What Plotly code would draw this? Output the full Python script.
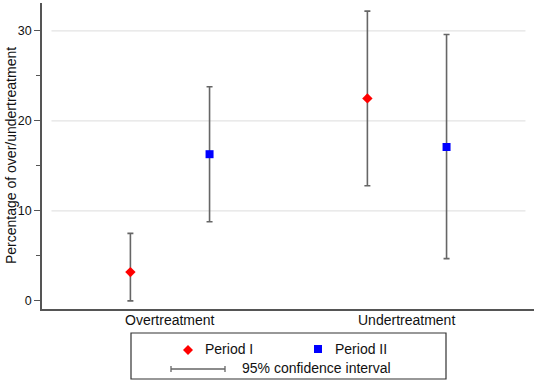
import plotly.graph_objects as go

categories = ["Overtreatment", "Undertreatment"]
period1_est = [3.2, 22.5]
period1_lo = [0.0, 12.8]
period1_hi = [7.5, 32.2]
period2_est = [16.3, 17.1]
period2_lo = [8.8, 4.7]
period2_hi = [23.8, 29.6]
ytick_vals = [0, 10, 20, 30]
minor_vals = [5, 15, 25]

W, H = 536, 383
L, R, T, B = 42, 2, 3, 74
pw, ph = W - L - R, H - T - B

cat_pos = [1, 2]
off = 0.167
x1 = [c - off for c in cat_pos]
x2 = [c + off for c in cat_pos]

err_color = "#666666"
FONT = "Liberation Sans, Arial, sans-serif"

fig = go.Figure()

def add_series(xs, est, lo, hi, color, symbol, size, name):
    fig.add_trace(go.Scatter(
        x=xs, y=est, mode="markers", name=name,
        marker=dict(color=color, symbol=symbol, size=size, line=dict(width=0)),
        error_y=dict(type="data", symmetric=False,
                     array=[h - e for h, e in zip(hi, est)],
                     arrayminus=[e - l for e, l in zip(est, lo)],
                     color=err_color, thickness=1.6, width=3),
        showlegend=False, cliponaxis=False, hoverinfo="skip",
    ))

# gridlines
for v in ytick_vals[1:]:
    fig.add_shape(type="line", xref="x", yref="y", x0=0.5, x1=2.5, y0=v, y1=v,
                  line=dict(color="#e3e3e3", width=1.2), layer="below")

add_series(x1, period1_est, period1_lo, period1_hi, "#ff0000", "diamond", 8, "Period I")
add_series(x2, period2_est, period2_lo, period2_hi, "#0000ff", "square", 8, "Period II")

def px2paper_x(px):
    return (px - L) / pw

def px2paper_y(py):
    return (H - B - py) / ph

# category labels
for c, lab in zip(cat_pos, categories):
    fig.add_annotation(text=lab, xref="x", yref="paper", x=c, y=px2paper_y(320),
                       xanchor="center", yanchor="middle", showarrow=False,
                       font=dict(family=FONT, size=14, color="#111111"))

# legend box
fig.add_shape(type="rect", xref="paper", yref="paper",
              x0=px2paper_x(131), x1=px2paper_x(446),
              y0=px2paper_y(379), y1=px2paper_y(333),
              line=dict(color="#333333", width=1.2), fillcolor="white")
# legend diamond
fig.add_shape(type="path", xref="paper", yref="paper", xsizemode="pixel", ysizemode="pixel",
              xanchor=px2paper_x(188), yanchor=px2paper_y(350),
              path="M0,-5 L5,0 L0,5 L-5,0 Z", fillcolor="#ff0000", line=dict(width=0))
# legend square
fig.add_shape(type="path", xref="paper", yref="paper", xsizemode="pixel", ysizemode="pixel",
              xanchor=px2paper_x(318), yanchor=px2paper_y(349),
              path="M-4,-4 L4,-4 L4,4 L-4,4 Z", fillcolor="#0000ff", line=dict(width=0))
# legend CI
fig.add_shape(type="path", xref="paper", yref="paper", xsizemode="pixel", ysizemode="pixel",
              xanchor=px2paper_x(198), yanchor=px2paper_y(369),
              path="M-27,0 L27,0 M-27,-3 L-27,3 M27,-3 L27,3", line=dict(color=err_color, width=1.3))

leg_font = dict(family=FONT, size=14, color="#111111")
for txt, px, py in [("Period I", 203, 349), ("Period II", 333, 349), ("95% confidence interval", 240, 368)]:
    fig.add_annotation(text=txt, xref="paper", yref="paper", x=px2paper_x(px), y=px2paper_y(py),
                       xanchor="left", yanchor="middle", showarrow=False, font=leg_font)

# y-axis title
fig.add_annotation(text="Percentage of over/undertreatment", xref="paper", yref="paper",
                   x=px2paper_x(11), y=px2paper_y(156), textangle=-90,
                   xanchor="center", yanchor="middle", showarrow=False,
                   font=dict(family=FONT, size=14, color="#111111"))

fig.update_layout(
    width=W, height=H,
    margin=dict(l=L, r=R, t=T, b=B),
    paper_bgcolor="white", plot_bgcolor="white",
    font=dict(family=FONT, size=12, color="#111111"),
    xaxis=dict(range=[0.46, 2.536], tickvals=cat_pos, showticklabels=False, showgrid=False,
               zeroline=False, showline=True, linecolor="#555555", linewidth=1.5,
               ticks="", automargin=False, fixedrange=True),
    yaxis=dict(range=[-0.9, 33.1], tickvals=ytick_vals, showgrid=False, zeroline=False,
               showline=True, linecolor="#555555", linewidth=1.5,
               ticks="outside", ticklen=6, tickcolor="#555555", tickwidth=1.2,
               tickfont=dict(size=12.5), automargin=False, fixedrange=True,
               minor=dict(tickvals=minor_vals, ticks="outside", ticklen=4, tickcolor="#555555", tickwidth=1)),
)

fig.write_html("out.html", config={"displayModeBar": False},
               post_script="document.body.style.margin='0';document.body.style.padding='0';document.body.style.overflow='hidden';")
